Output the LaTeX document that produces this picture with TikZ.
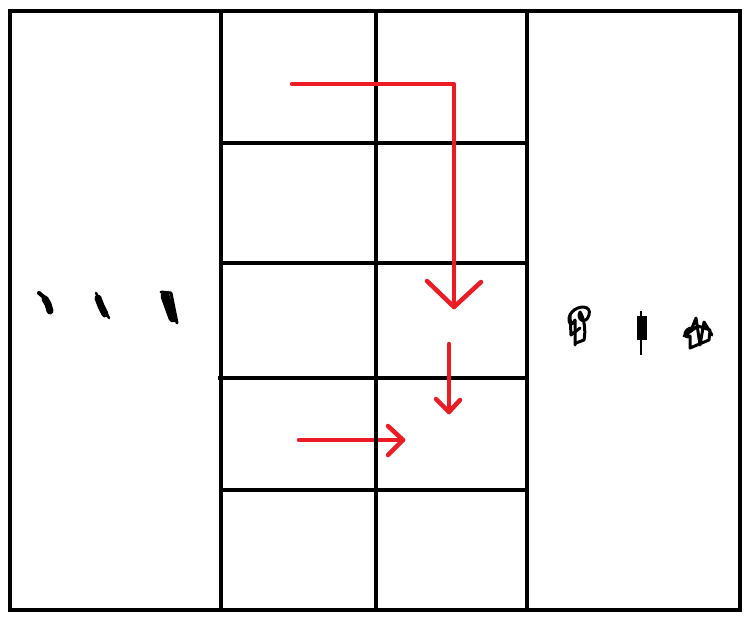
\documentclass[tikz,border=0pt]{standalone}
\begin{document}
\begin{tikzpicture}[x=1pt,y=-1pt,
  grid/.style={line width=4.5pt,black},
  redarrow/.style={line width=4.5pt,draw={rgb,255:red,237;green,28;blue,36},line cap=round,line join=round},
  blob/.style={black,line cap=round,line join=round},
  loopy/.style={line width=3pt,black,line cap=round,line join=round}]
\useasboundingbox (0,0) rectangle (749,623);
\fill[white] (0,0) rectangle (749,623);
% grid
\draw[grid] (10,11) rectangle (740,610);
\draw[grid] (221,11) -- (221,610);
\draw[grid] (376,11) -- (376,610);
\draw[grid] (527,11) -- (527,610);
\draw[grid] (221,143) -- (527,143);
\draw[grid] (221,263) -- (527,263);
\draw[grid] (218,378) -- (527,378);
\draw[grid] (221,490) -- (527,490);
% arrows
\coordinate (a1s) at (292,84);
\coordinate (a1c) at (454,84);
\coordinate (a1e) at (454,307);
\draw[redarrow] (a1s) -- (a1c) -- (a1e);
\draw[redarrow] (427,281) -- (a1e) -- (481,282);
\coordinate (a2s) at (449,344);
\coordinate (a2e) at (449,412);
\draw[redarrow] (a2s) -- (a2e);
\draw[redarrow] (436,399) -- (a2e) -- (460,400);
\coordinate (a3s) at (299,440);
\coordinate (a3e) at (403,440);
\draw[redarrow] (a3s) -- (a3e);
\draw[redarrow] (388,426) -- (a3e) -- (388,455);
\draw[grid] (376,430) -- (376,450);
% left scribbles
\draw[blob,line width=4pt] (39,293) -- (45,298);
\draw[blob,line width=7pt] (45,299) -- (48,304) -- (50,311);
\draw[blob,line width=7pt] (98,298) -- (101,306) -- (105,314);
\draw[blob,line width=2.5pt] (96,293) -- (109,318);
\draw[blob,line width=9pt] (165,296) -- (169,307) -- (173,318);
\draw[blob,line width=3pt] (161,292) -- (171,293) -- (177,323);
% right scribbles
\draw[loopy] (575,345) -- (575,320) .. controls (570,330) and (566,318) .. (572,312)
  .. controls (578,305) and (592,305) .. (589,315)
  .. controls (586,325) and (576,320) .. (580,312)
  .. controls (584,318) and (586,330) .. (584,340) -- (576,343);
\draw[loopy] (570,315) -- (571,335) -- (580,328);
\draw[black,line width=2.5pt] (641,311) -- (641,355);
\fill[black] (637,316) rectangle (647,340);
\draw[loopy] (684,336) -- (698,326) -- (710,330) -- (709,340) -- (690,348) -- (690,336)
  .. controls (682,340) and (684,328) .. (692,328) -- (696,318) -- (700,345) -- (704,322) -- (712,335);
\end{tikzpicture}
\end{document}
